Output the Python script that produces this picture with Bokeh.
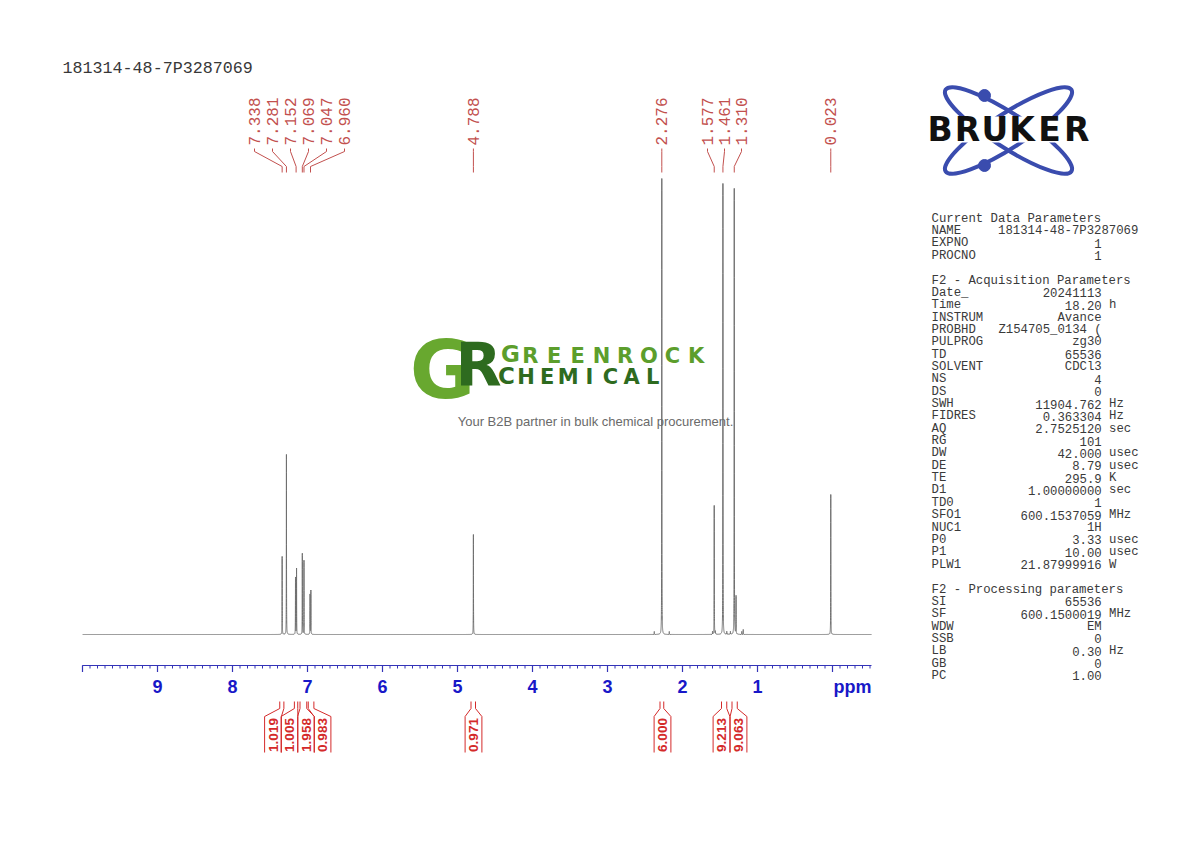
import math
import numpy as np
from bokeh.plotting import figure
from bokeh.models import Range1d
from bokeh.core.properties import value
from bokeh.embed import file_html
from bokeh.resources import INLINE

# ---------------- data ----------------
title_text = "181314-48-7P3287069"

# main lines of the 1H spectrum (ppm, relative height)
peak_ppm = [7.338, 7.281, 7.160, 7.146, 7.069, 7.047, 6.966, 6.955,
            4.788, 2.276, 1.577, 1.461, 1.310, 1.286, 0.023]
peak_height = [78, 180, 57, 66, 81, 74, 40, 44,
               100, 456, 129, 451, 446, 38, 140]
# tiny 13C satellites / impurities
sat_ppm = [2.376, 2.176, 1.561, 1.361, 1.410, 1.210, 1.190, 1.600]
sat_height = [3, 3, 3, 3, 3, 3, 5, 3]

# peak pick labels
peak_labels = ["7.338", "7.281", "7.152", "7.069", "7.047", "6.960",
               "4.788", "2.276", "1.577", "1.461", "1.310", "0.023"]
label_ppm = [7.338, 7.281, 7.152, 7.069, 7.047, 6.960,
             4.788, 2.276, 1.577, 1.461, 1.310, 0.023]

# integrals
integral_left = [7.370, 7.175, 7.100, 6.990, 4.820, 2.300, 1.480, 1.340]
integral_right = [7.315, 7.130, 7.010, 6.915, 4.760, 2.250, 1.410, 1.270]
integral_values = ["1.019", "1.005", "1.958", "0.983", "0.971", "6.000", "9.213", "9.063"]

# axis
axis_major = [10, 9, 8, 7, 6, 5, 4, 3, 2, 1, 0]
axis_labels = ["9", "8", "7", "6", "5", "4", "3", "2", "1"]
axis_label_pos = [9, 8, 7, 6, 5, 4, 3, 2, 1]
axis_from, axis_to = 10.0, -0.52

# acquisition / processing parameters
sec1_title = "Current Data Parameters"
sec1_keys = ["NAME", "EXPNO", "PROCNO"]
sec1_vals = ["181314-48-7P3287069", "1", "1"]
sec1_units = ["", "", ""]

sec2_title = "F2 - Acquisition Parameters"
sec2_keys = ["Date_", "Time", "INSTRUM", "PROBHD", "PULPROG", "TD", "SOLVENT", "NS", "DS",
             "SWH", "FIDRES", "AQ", "RG", "DW", "DE", "TE", "D1", "TD0", "SFO1", "NUC1",
             "P0", "P1", "PLW1"]
sec2_vals = ["20241113", "18.20", "Avance", "Z154705_0134 (", "zg30", "65536", "CDCl3", "4", "0",
             "11904.762", "0.363304", "2.7525120", "101", "42.000", "8.79", "295.9", "1.00000000",
             "1", "600.1537059", "1H", "3.33", "10.00", "21.87999916"]
sec2_units = ["", "h", "", "", "", "", "", "", "",
              "Hz", "Hz", "sec", "", "usec", "usec", "K", "sec", "", "MHz", "",
              "usec", "usec", "W"]

sec3_title = "F2 - Processing parameters"
sec3_keys = ["SI", "SF", "WDW", "SSB", "LB", "GB", "PC"]
sec3_vals = ["65536", "600.1500019", "EM", "0", "0.30", "0", "1.00"]
sec3_units = ["", "MHz", "", "", "Hz", "", ""]

brand_text = "BRUKER"
logo_line1 = "GREENROCK"
logo_line2 = "CHEMICAL"
tagline = "Your B2B partner in bulk chemical procurement."

# ---------------- layout helpers (page pixels -> data) ----------------
PPM_PX = 75.0          # pixels per ppm
X0_PX = 82.0           # page x of 10 ppm
BASE_PY = 634.0        # page y of spectrum baseline


def X(px):
    return 10.0 - (px - X0_PX) / PPM_PX


def Y(py):
    return BASE_PY - py


def ppm_to_px(v):
    return X0_PX + (10.0 - v) * PPM_PX


W, H = 1174, 826
OFF = 0
p = figure(width=W, height=H,
           x_range=Range1d(X(OFF), X(OFF + W)), y_range=Range1d(Y(OFF + H), Y(OFF)),
           output_backend="svg", toolbar_location=None,
           x_axis_type=None, y_axis_type=None, min_border=0)
p.outline_line_color = None
p.background_fill_color = "white"
p.border_fill_color = "white"

MONO = value("Liberation Mono")
SANS = value("Liberation Sans")
DJ = value("DejaVu Sans")

# ---------------- spectrum ----------------
centers = peak_ppm + sat_ppm
heights = peak_height + sat_height
coarse = np.arange(axis_to, axis_from + 1e-9, 0.002)
fine = [np.linspace(c - 0.02, c + 0.02, 201) for c in centers]
xs = np.unique(np.concatenate([coarse] + fine))
xs = xs[(xs >= axis_to) & (xs <= axis_from)][::-1]
hw = 0.0012
ys = np.zeros_like(xs)
for c, h in zip(centers, heights):
    ys += h / (1.0 + ((xs - c) / hw) ** 2)
p.line(xs, ys, line_color="#6f6f6f", line_width=1)

# ---------------- axis ----------------
AX_C = "#3434b8"
ax_y = Y(665)
p.segment(x0=[axis_from], y0=[ax_y], x1=[axis_to], y1=[ax_y], line_color=AX_C, line_width=1.2)
minor = [round(v, 1) for v in np.arange(-0.5, 10.0001, 0.1)]
p.segment(x0=minor, y0=[ax_y] * len(minor), x1=minor, y1=[ax_y - 3] * len(minor),
          line_color=AX_C, line_width=1)
p.segment(x0=axis_major, y0=[ax_y] * len(axis_major), x1=axis_major,
          y1=[ax_y - 6.5] * len(axis_major), line_color=AX_C, line_width=1.2)
p.text(x=axis_label_pos, y=[Y(686)] * len(axis_label_pos), text=axis_labels,
       text_font=SANS, text_font_style="bold", text_font_size=value("18px"),
       text_color="#1818c8", text_align="center", text_baseline="middle")
p.text(x=[axis_to], y=[Y(686)], text=["ppm"], text_font=SANS, text_font_style="bold",
       text_font_size=value("18px"), text_color="#1818c8",
       text_align="right", text_baseline="middle")

# ---------------- peak labels ----------------
LAB_C = "#c2504e"
label_px = [254, 272, 290, 308, 326, 344, None, None, 707, 724, 741, None]
lx = [ppm_to_px(v) if lp is None else lp for v, lp in zip(label_ppm, label_px)]
p.text(x=[X(v) for v in lx], y=[Y(145)] * len(lx), text=peak_labels, angle=math.pi / 2,
       text_font=MONO, text_font_size=value("16px"), text_color=LAB_C,
       text_align="left", text_baseline="middle")
lead_x, lead_y = [], []
for v, px in zip(label_ppm, lx):
    lead_x.append([X(px), X(px), v, v])
    lead_y.append([Y(148), Y(151), Y(166), Y(172)])
p.multi_line(xs=lead_x, ys=lead_y, line_color=LAB_C, line_width=1)

# ---------------- integrals ----------------
INT_C = "#d42a2a"
box_px = [272.5, 289, 305.5, 322, 473, 662, 721, 738]
bh = 8.4
ix, iy = [], []
for cx, l, r in zip(box_px, integral_left, integral_right):
    ix.append([X(cx - bh), X(cx - bh), l, l])
    iy.append([Y(752), Y(716), Y(708), Y(701)])
    ix.append([X(cx + bh), X(cx + bh), r, r])
    iy.append([Y(752), Y(716), Y(708), Y(701)])
p.multi_line(xs=ix, ys=iy, line_color=INT_C, line_width=1)
p.text(x=[X(c) for c in box_px], y=[Y(734.5)] * len(box_px), text=integral_values,
       angle=math.pi / 2, text_font=SANS, text_font_style="bold",
       text_font_size=value("13.5px"), text_color=INT_C,
       text_align="center", text_baseline="middle")

# ---------------- title ----------------
p.text(x=[X(62)], y=[Y(68)], text=[title_text], text_font=MONO,
       text_font_size=value("16.7px"), text_color="#383838",
       text_align="left", text_baseline="middle")

# ---------------- parameter panel ----------------
PAR_C = "#3a3a3a"
CH = 7.4
KX = 931.0
LINE = 12.35


def section(title, keys, vals, units, y0):
    p.text(x=[X(KX)], y=[Y(y0)], text=[title], text_font=MONO, text_font_size=value("12.3px"),
           text_color=PAR_C, text_align="left", text_baseline="middle")
    ky = [Y(y0 + LINE * (i + 1)) for i in range(len(keys))]
    p.text(x=[X(KX)] * len(keys), y=ky, text=keys, text_font=MONO,
           text_font_size=value("12.3px"), text_color=PAR_C,
           text_align="left", text_baseline="middle")
    rv, ryy, lv, lyy = [], [], [], []
    for k, v, yy in zip(keys, vals, ky):
        if k == "NAME":
            lv.append(v)
            lyy.append(yy)
        else:
            rv.append(v)
            ryy.append(yy)
    if rv:
        p.text(x=[X(KX + 23 * CH)] * len(rv), y=ryy, text=rv, text_font=MONO,
               text_font_size=value("12.3px"), text_color=PAR_C,
               text_align="right", text_baseline="middle")
    if lv:
        p.text(x=[X(KX + 9 * CH)] * len(lv), y=lyy, text=lv, text_font=MONO,
               text_font_size=value("12.3px"), text_color=PAR_C,
               text_align="left", text_baseline="middle")
    uu = [(u, yy) for u, yy in zip(units, ky) if u]
    if uu:
        p.text(x=[X(KX + 24 * CH)] * len(uu), y=[b for _, b in uu], text=[a for a, _ in uu],
               text_font=MONO, text_font_size=value("12.3px"), text_color=PAR_C,
               text_align="left", text_baseline="middle")


section(sec1_title, sec1_keys, sec1_vals, sec1_units, 218)
section(sec2_title, sec2_keys, sec2_vals, sec2_units, 280)
section(sec3_title, sec3_keys, sec3_vals, sec3_units, 589)

# ---------------- Bruker logo ----------------
BL = "#3a4cae"
for ang in (math.radians(33), -math.radians(33)):
    p.ellipse(x=[X(1008)], y=[Y(130)], width=150, height=34, width_units="screen",
              height_units="screen", angle=ang, fill_color=None, line_color=BL, line_width=4)
p.scatter(x=[X(984), X(984)], y=[Y(95), Y(165)], size=12, color=BL)
p.rect(x=[X(1008)], y=[Y(129)], width=170, height=26, width_units="screen",
       height_units="screen", fill_color="white", line_color=None)
bx = [939.7 + 27.3 * i for i in range(len(brand_text))]
p.text(x=[X(v) for v in bx], y=[Y(129)] * len(bx), text=list(brand_text), text_font=DJ,
       text_font_style="bold", text_font_size=value("33px"), text_color="#111111",
       text_align="center", text_baseline="middle")

# ---------------- Greenrock watermark ----------------
p.text(x=[X(442)], y=[Y(370)], text=["G"], text_font=DJ, text_font_style="bold",
       text_font_size=value("80px"), text_color="#68a82f",
       text_align="center", text_baseline="middle")
p.text(x=[X(478)], y=[Y(364)], text=["R"], text_font=DJ, text_font_style="bold",
       text_font_size=value("60px"), text_color="#2e6b1f",
       text_align="center", text_baseline="middle")
# line 1
p.text(x=[X(510)], y=[Y(353.5)], text=[logo_line1[0]], text_font=DJ, text_font_style="bold",
       text_font_size=value("23px"), text_color="#5c9e2c",
       text_align="center", text_baseline="middle")
g1 = [518 + 23.7 * (i + 0.5) for i in range(len(logo_line1) - 1)]
p.text(x=[X(v) for v in g1], y=[Y(355)] * len(g1), text=list(logo_line1[1:]), text_font=DJ,
       text_font_style="bold", text_font_size=value("21px"), text_color="#5c9e2c",
       text_align="center", text_baseline="middle")
# line 2
p.text(x=[X(506)], y=[Y(375)], text=[logo_line2[0]], text_font=DJ, text_font_style="bold",
       text_font_size=value("23px"), text_color="#2e6b1f",
       text_align="center", text_baseline="middle")
g2 = [515 + 21.1 * (i + 0.5) for i in range(len(logo_line2) - 1)]
p.text(x=[X(v) for v in g2], y=[Y(376)] * len(g2), text=list(logo_line2[1:]), text_font=DJ,
       text_font_style="bold", text_font_size=value("21px"), text_color="#2e6b1f",
       text_align="center", text_baseline="middle")
p.text(x=[X(595)], y=[Y(421)], text=[tagline], text_font=SANS, text_font_size=value("13px"),
       text_color="#6a6a6a", text_align="center", text_baseline="middle")

open("out.html", "w").write(file_html(p, INLINE, title="1H NMR"))
